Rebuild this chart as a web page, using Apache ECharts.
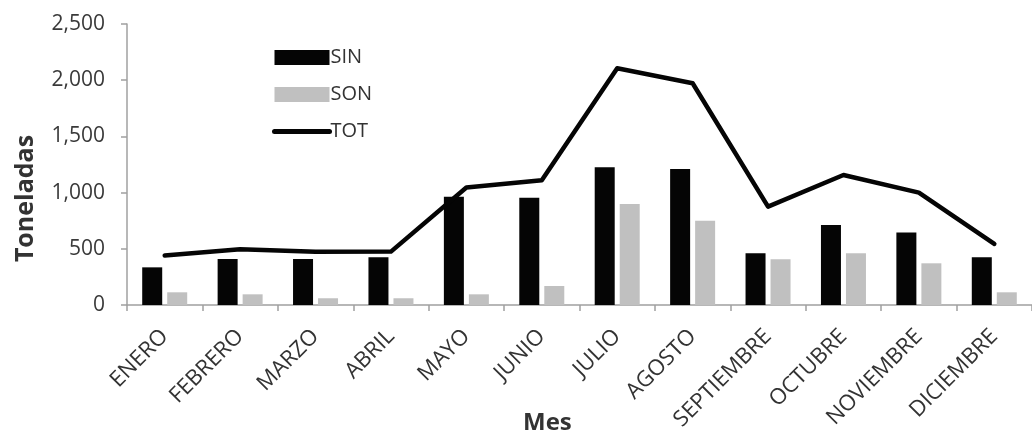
<!DOCTYPE html>
<html>
<head>
<meta charset="utf-8">
<script src="https://cdn.jsdelivr.net/npm/echarts@6/dist/echarts.min.js"></script>
<style>
html,body{margin:0;padding:0;background:#fff;}
#chart{width:1032px;height:436px;}
</style>
</head>
<body>
<div id="chart"></div>
<script>
const months = ['ENERO','FEBRERO','MARZO','ABRIL','MAYO','JUNIO','JULIO','AGOSTO','SEPTIEMBRE','OCTUBRE','NOVIEMBRE','DICIEMBRE'];
const sin = [335, 409, 409, 424, 962, 955, 1225, 1210, 460, 712, 644, 424];
const son = [113, 95, 60, 60, 95, 169, 899, 750, 407, 460, 371, 113];
const tot = [440, 497, 474, 475, 1045, 1110, 2106, 1973, 875, 1157, 1000, 543];
const yTicks = ['0', '500', '1,000', '1,500', '2,000', '2,500'];

const FONT = 'Open Sans';
const chart = echarts.init(document.getElementById('chart'), null, {renderer: 'canvas'});
chart.setOption({
  animation: false,
  backgroundColor: '#ffffff',
  title: {
    text: 'Mes',
    left: 523,
    top: 411,
    padding: 0,
    textStyle: {fontFamily: FONT, fontSize: 24, fontWeight: 'bold', color: '#333333'}
  },
  legend: {
    orient: 'vertical',
    left: 272,
    top: 47,
    padding: 0,
    itemWidth: 55,
    itemHeight: 15,
    itemGap: 16,
    textStyle: {fontFamily: FONT, fontSize: 20, color: '#333333', lineHeight: 21, padding: [0, 0, 0, -4]},
    data: [
      {name: 'SIN', icon: 'rect'},
      {name: 'SON', icon: 'rect'},
      {name: 'TOT', itemStyle: {opacity: 0}, lineStyle: {width: 5, color: '#050505'}}
    ]
  },
  grid: {left: 127, top: 24, width: 913, height: 281, containLabel: false},
  xAxis: {
    type: 'category',
    data: months,
    boundaryGap: true,
    axisLine: {lineStyle: {color: '#a0a0a0', width: 1.5}},
    axisTick: {show: true, length: 6, alignWithLabel: false, lineStyle: {color: '#a0a0a0', width: 1.5}},
    axisLabel: {rotate: 45, margin: 28, fontFamily: FONT, fontSize: 22, color: '#333333', interval: 0}
  },
  yAxis: {
    type: 'value',
    min: 0,
    max: 2500,
    interval: 500,
    name: 'Toneladas',
    nameLocation: 'middle',
    nameGap: 89,
    nameTextStyle: {fontFamily: FONT, fontSize: 25, fontWeight: 'bold', color: '#333333', padding: [0, 68, 0, 0]},
    axisLine: {show: true, lineStyle: {color: '#a0a0a0', width: 1.5}},
    axisTick: {show: true, length: 6, lineStyle: {color: '#a0a0a0', width: 1.5}},
    splitLine: {show: false},
    axisLabel: {
      margin: 22, fontFamily: FONT, fontSize: 21, color: '#3a3a3a',
      formatter: function (v) { return yTicks[Math.round(v / 500)]; }
    }
  },
  series: [
    {
      name: 'SIN', type: 'bar', data: sin, barWidth: 20, barGap: '25%',
      itemStyle: {color: '#050505'}
    },
    {
      name: 'SON', type: 'bar', data: son, barWidth: 20,
      itemStyle: {color: '#c0c0c0'}
    },
    {
      name: 'TOT', type: 'line', data: tot, symbol: 'none', showSymbol: false,
      lineStyle: {color: '#050505', width: 4.5, join: 'round', cap: 'round'},
      itemStyle: {color: '#050505'}
    }
  ]
});
</script>
</body>
</html>
